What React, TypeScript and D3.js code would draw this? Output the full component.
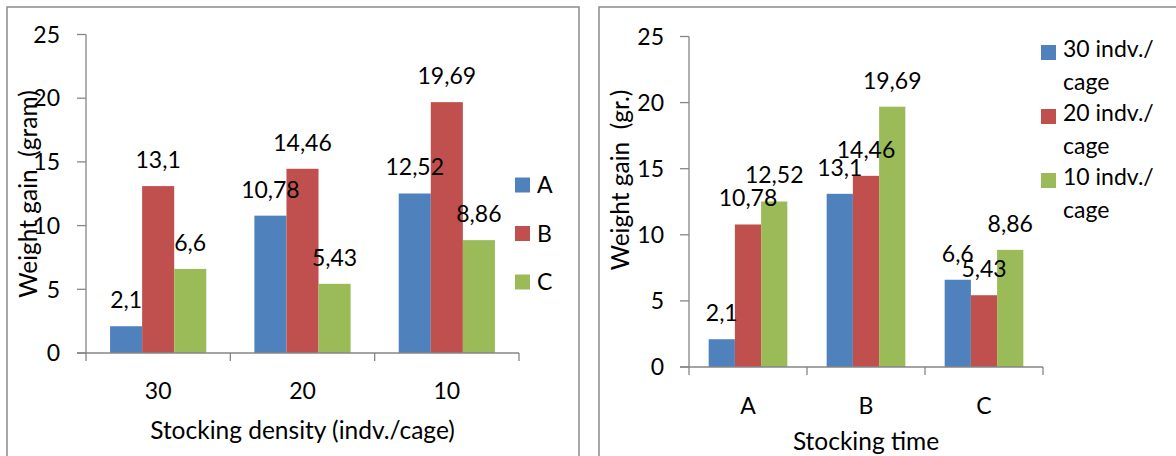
import React from "react";
import * as d3 from "d3";

// ---- Data: left chart (by stocking density) ----
const leftCategories = ["30", "20", "10"];
const leftSeries = ["A", "B", "C"];
const leftA = [2.1, 10.78, 12.52];
const leftB = [13.1, 14.46, 19.69];
const leftC = [6.6, 5.43, 8.86];

// ---- Data: right chart (by stocking time) ----
const rightCategories = ["A", "B", "C"];
const rightSeries = ["30 indv./cage", "20 indv./cage", "10 indv./cage"];
const right30 = [2.1, 13.1, 6.6];
const right20 = [10.78, 14.46, 5.43];
const right10 = [12.52, 19.69, 8.86];

const yTicks = [0, 5, 10, 15, 20, 25];
const colors = ["#4F81BD", "#C0504D", "#9BBB59"];
const FONT = "Lato, Carlito, Calibri, 'Open Sans', sans-serif";
const FS = 23;
const FS_TITLE = 24.5;
const AXIS = "#868686";

const fmt = (v: number) => String(v).replace(".", ",");

type PanelProps = {
  categories: string[];
  series: string[];
  values: number[][]; // values[series][category]
  x0: number;
  x1: number;
  yBottom: number;
  yTop: number;
  tickLabelX: number;
  catLabelY: number;
  title: string;
  titleY: number;
  yTitle: string;
  yTitleX: number;
  yTitleY: number;
};

function Panel(p: PanelProps) {
  const xc = d3.scaleBand<string>().domain(p.categories).range([p.x0, p.x1]).padding(0);
  const bw = xc.bandwidth();
  const bar = bw / 4.5;
  const xs = d3
    .scaleBand<string>()
    .domain(p.series)
    .range([bar * 0.75, bw - bar * 0.75])
    .padding(0);
  const y = d3.scaleLinear().domain([0, 25]).range([p.yBottom, p.yTop]);
  const boundaries = [...p.categories.map((c) => xc(c) as number), p.x1];

  return (
    <g fontFamily={FONT} fontSize={FS} fill="#000">
      {/* y axis */}
      <line x1={p.x0} x2={p.x0} y1={y(25)} y2={y(0)} stroke={AXIS} strokeWidth={1.3} />
      {yTicks.map((t) => (
        <g key={t}>
          <line x1={p.x0 - 9} x2={p.x0} y1={y(t)} y2={y(t)} stroke={AXIS} strokeWidth={1.3} />
          <text x={p.tickLabelX} y={y(t)} dy="0.36em" textAnchor="end">
            {t}
          </text>
        </g>
      ))}
      {/* bars */}
      {p.series.map((s, si) =>
        p.categories.map((c, ci) => {
          const v = p.values[si][ci];
          const bx = (xc(c) as number) + (xs(s) as number);
          return (
            <g key={s + c}>
              <rect x={bx} y={y(v)} width={xs.bandwidth()} height={y(0) - y(v)} fill={colors[si]} />
            </g>
          );
        })
      )}
      {/* x axis */}
      <line x1={p.x0 - 9} x2={p.x1} y1={y(0)} y2={y(0)} stroke={AXIS} strokeWidth={1.3} />
      {boundaries.map((b, i) => (
        <line key={i} x1={b} x2={b} y1={y(0)} y2={y(0) + 8} stroke={AXIS} strokeWidth={1.3} />
      ))}
      {p.categories.map((c) => (
        <text key={c} x={(xc(c) as number) + bw / 2} y={p.catLabelY} textAnchor="middle">
          {c}
        </text>
      ))}
      {/* data labels */}
      {p.series.map((s, si) =>
        p.categories.map((c, ci) => {
          const v = p.values[si][ci];
          const cx = (xc(c) as number) + (xs(s) as number) + xs.bandwidth() / 2;
          return (
            <text key={"l" + s + c} x={cx} y={y(v) - 18} textAnchor="middle">
              {fmt(v)}
            </text>
          );
        })
      )}
      <text x={(p.x0 + p.x1) / 2} y={p.titleY} textAnchor="middle" fontSize={FS_TITLE}>
        {p.title}
      </text>
      <text
        transform={`translate(${p.yTitleX},${p.yTitleY}) rotate(-90)`}
        textAnchor="middle"
        fontSize={FS_TITLE}
        style={{ whiteSpace: "pre" }}
      >
        {p.yTitle}
      </text>
    </g>
  );
}

export default function App() {
  return (
    <svg
      width={1176}
      height={456}
      style={{ position: "absolute", left: 0, top: 0, background: "#fff" }}
    >
      <rect x={0} y={0} width={1176} height={456} fill="#fff" />
      {/* panel frames */}
      <rect x={7} y={7} width={572} height={470} fill="none" stroke="#8a8a8a" strokeWidth={1.5} />
      <rect x={599} y={7} width={600} height={470} fill="none" stroke="#8a8a8a" strokeWidth={1.5} />

      <Panel
        categories={leftCategories}
        series={leftSeries}
        values={[leftA, leftB, leftC]}
        x0={86}
        x1={519}
        yBottom={353}
        yTop={34.5}
        tickLabelX={60}
        catLabelY={399}
        title="Stocking density (indv./cage)"
        titleY={439}
        yTitle="Weight gain  (gram)"
        yTitleX={37}
        yTitleY={194}
      />
      <Panel
        categories={rightCategories}
        series={rightSeries}
        values={[right30, right20, right10]}
        x0={689}
        x1={1043}
        yBottom={367}
        yTop={36.5}
        tickLabelX={664}
        catLabelY={414}
        title="Stocking time"
        titleY={450}
        yTitle="Weight gain  (gr.)"
        yTitleX={629}
        yTitleY={180}
      />

      {/* left legend */}
      <g fontFamily={FONT} fontSize={FS}>
        {leftSeries.map((s, i) => {
          const cy = 185 + i * 48.5;
          return (
            <g key={s}>
              <rect x={515} y={cy - 7.5} width={15} height={15} fill={colors[i]} />
              <text x={537} y={cy} dy="0.36em">
                {s}
              </text>
            </g>
          );
        })}
      </g>

      {/* right legend */}
      <g fontFamily={FONT} fontSize={FS}>
        {rightSeries.map((s, i) => {
          const base = 57 + i * 64;
          const [l1, l2] = [s.slice(0, s.indexOf("/") + 1), s.slice(s.indexOf("/") + 1)];
          return (
            <g key={s}>
              <rect x={1041} y={base - 12} width={15} height={15} fill={colors[i]} />
              <text x={1063} y={base}>
                {l1}
              </text>
              <text x={1063} y={base + 33}>
                {l2}
              </text>
            </g>
          );
        })}
      </g>
    </svg>
  );
}
